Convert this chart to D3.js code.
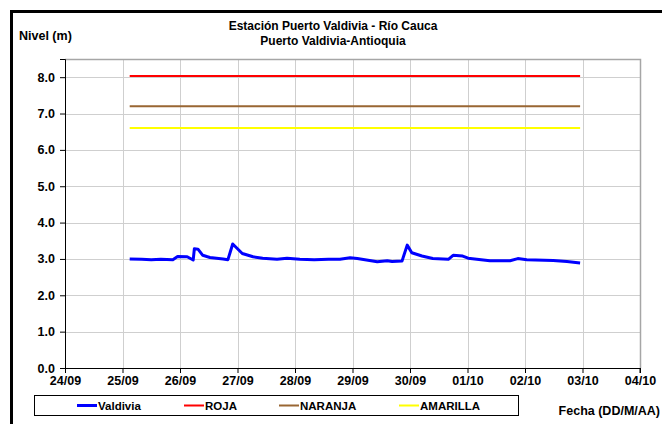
<!DOCTYPE html>
<html>
<head>
<meta charset="utf-8">
<script src="https://cdn.jsdelivr.net/npm/d3@7"></script>
<style>
	body { margin: 0; background: #fff; }
	text { font-family: Arial, "Liberation Sans", sans-serif; font-weight: bold; fill: #000; }
</style>
</head>
<body>
<svg id="chart" width="662" height="424" viewBox="0 0 662 424"></svg>
<script>
// serie Valdivia: fecha, nivel (m)
const valdiviaTimes = [
	"25/09 03:00", "25/09 08:00", "25/09 12:00", "25/09 16:00", "25/09 21:00", "25/09 23:00",
	"26/09 03:00", "26/09 05:30", "26/09 06:00", "26/09 07:30", "26/09 09:30", "26/09 12:30",
	"26/09 18:00", "26/09 20:00", "26/09 22:00", "27/09 02:00", "27/09 06:30", "27/09 10:30",
	"27/09 16:30", "27/09 20:40", "28/09 02:00", "28/09 08:00", "28/09 14:00", "28/09 18:45",
	"28/09 23:00", "29/09 02:00", "29/09 10:20", "29/09 14:30", "29/09 16:30", "29/09 20:40",
	"29/09 22:50", "30/09 00:45", "30/09 05:00", "30/09 09:30", "30/09 16:00", "30/09 18:00",
	"30/09 22:00", "01/10 00:15", "01/10 09:20", "01/10 17:45", "01/10 21:00", "02/10 00:45",
	"02/10 11:45", "02/10 17:30", "02/10 23:00"
];
const valdiviaLevels = [
	3.00, 2.99, 2.98, 2.99, 2.98, 3.07,
	3.06, 2.97, 3.28, 3.27, 3.10, 3.04,
	3.00, 2.98, 3.41, 3.15, 3.06, 3.02,
	2.99, 3.02, 2.99, 2.98, 2.99, 2.99,
	3.03, 3.01, 2.92, 2.95, 2.93, 2.94,
	3.38, 3.17, 3.08, 3.01, 2.99, 3.10,
	3.08, 3.02, 2.95, 2.95, 3.01, 2.98,
	2.96, 2.93, 2.89
];

// umbrales de alerta
const alertNames = ["ROJA", "NARANJA", "AMARILLA"];
const alertLevels = [8.03, 7.2, 6.6];
const alertColors = ["#ff0000", "#996633", "#ffff00"];
const alertStart = "25/09 03:00";
const alertEnd = "02/10 23:00";

const xTickLabels = ["24/09", "25/09", "26/09", "27/09", "28/09", "29/09", "30/09", "01/10", "02/10", "03/10", "04/10"];
const yTicks = [0, 1, 2, 3, 4, 5, 6, 7, 8];

// el año no aparece en la grafica, se usa uno fijo
const parse = d3.timeParse("%d/%m/%Y %H:%M");
const toDate = s => {
	const p = s.split(" ");
	return parse(p[0] + "/2016 " + (p[1] || "00:00"));
};

const svg = d3.select("#chart");

const margin = { left: 65, right: 22, top: 59, bottom: 56 };
const plotW = 662 - margin.left - margin.right;
const plotH = 424 - margin.top - margin.bottom;

const x = d3.scaleTime()
	.domain([toDate("24/09"), toDate("04/10")])
	.range([margin.left, margin.left + plotW]);
const y = d3.scaleLinear()
	.domain([0, 8.5])
	.range([margin.top + plotH, margin.top]);

// marco exterior
svg.append("path")
	.attr("d", "M11.5,430 L11.5,11.5 L670,11.5")
	.attr("fill", "none")
	.attr("stroke", "#000")
	.attr("stroke-width", 3);

// titulo
svg.append("text").attr("x", 333).attr("y", 30).attr("text-anchor", "middle")
	.style("font-size", "12px").text("Estación Puerto Valdivia - Río Cauca");
svg.append("text").attr("x", 333).attr("y", 45).attr("text-anchor", "middle")
	.style("font-size", "12px").text("Puerto Valdivia-Antioquia");
svg.append("text").attr("x", 19).attr("y", 40)
	.style("font-size", "12.5px").text("Nivel (m)");
svg.append("text").attr("x", 660).attr("y", 415).attr("text-anchor", "end")
	.style("font-size", "12.5px").text("Fecha (DD/M/AA)");

const xDates = xTickLabels.map(d => toDate(d));

// rejilla
svg.append("g").selectAll("line").data(yTicks.slice(1)).join("line")
	.attr("x1", margin.left).attr("x2", margin.left + plotW)
	.attr("y1", d => Math.round(y(d)) + 0.5).attr("y2", d => Math.round(y(d)) + 0.5)
	.attr("stroke", "#cfcfcf").attr("stroke-width", 1);
svg.append("g").selectAll("line").data(xDates.slice(1, -1)).join("line")
	.attr("x1", d => Math.round(x(d)) + 0.5).attr("x2", d => Math.round(x(d)) + 0.5)
	.attr("y1", margin.top).attr("y2", margin.top + plotH)
	.attr("stroke", "#cfcfcf").attr("stroke-width", 1);

// borde superior y derecho del area de trazado
svg.append("path")
	.attr("d", `M${margin.left},${margin.top + 0.5} H${margin.left + plotW + 0.5} V${margin.top + plotH}`)
	.attr("fill", "none").attr("stroke", "#a6a6a6").attr("stroke-width", 1.5);

// ejes
const xAxis = d3.axisBottom(x).tickValues(xDates).tickFormat((d, i) => xTickLabels[i]).tickSize(5).tickPadding(3);
const gx = svg.append("g").attr("transform", `translate(0,${margin.top + plotH})`).call(xAxis);
gx.selectAll("text").style("font-size", "12.5px").style("font-family", "Arial, 'Liberation Sans', sans-serif").style("font-weight", "bold");

const yAxis = d3.axisLeft(y).tickValues(yTicks).tickFormat(d3.format(".1f")).tickSize(5).tickPadding(5);
const gy = svg.append("g").attr("transform", `translate(${margin.left},0)`).call(yAxis);
gy.selectAll("text").style("font-size", "12.5px").style("font-family", "Arial, 'Liberation Sans', sans-serif").style("font-weight", "bold");
gx.select(".domain").attr("d", `M${margin.left},0.5H${margin.left + plotW}V5`);

// umbrales
svg.append("g").selectAll("line").data(alertLevels).join("line")
	.attr("x1", x(toDate(alertStart))).attr("x2", x(toDate(alertEnd)))
	.attr("y1", d => y(d)).attr("y2", d => y(d))
	.attr("stroke", (d, i) => alertColors[i]).attr("stroke-width", 2);

// serie Valdivia
const series = valdiviaTimes.map((t, i) => [toDate(t), valdiviaLevels[i]]);
svg.append("path")
	.datum(series)
	.attr("fill", "none")
	.attr("stroke", "#0000ff")
	.attr("stroke-width", 3)
	.attr("stroke-linejoin", "round")
	.attr("d", d3.line().x(d => x(d[0])).y(d => y(d[1])));

// leyenda
const legend = svg.append("g");
legend.append("rect").attr("x", 34.5).attr("y", 395.5).attr("width", 484).attr("height", 20)
	.attr("fill", "#fff").attr("stroke", "#000").attr("stroke-width", 1);
const legendItems = [
	{ name: "Valdivia", color: "#0000ff", w: 3, x0: 77 },
	{ name: alertNames[0], color: alertColors[0], w: 2, x0: 184 },
	{ name: alertNames[1], color: alertColors[1], w: 2, x0: 279 },
	{ name: alertNames[2], color: alertColors[2], w: 2, x0: 399 }
];
legendItems.forEach(item => {
	legend.append("line").attr("x1", item.x0).attr("x2", item.x0 + 20)
		.attr("y1", 405.5).attr("y2", 405.5)
		.attr("stroke", item.color).attr("stroke-width", item.w);
	legend.append("text").attr("x", item.x0 + 21).attr("y", 409.5)
		.style("font-size", "11.5px").text(item.name);
});
</script>
</body>
</html>
